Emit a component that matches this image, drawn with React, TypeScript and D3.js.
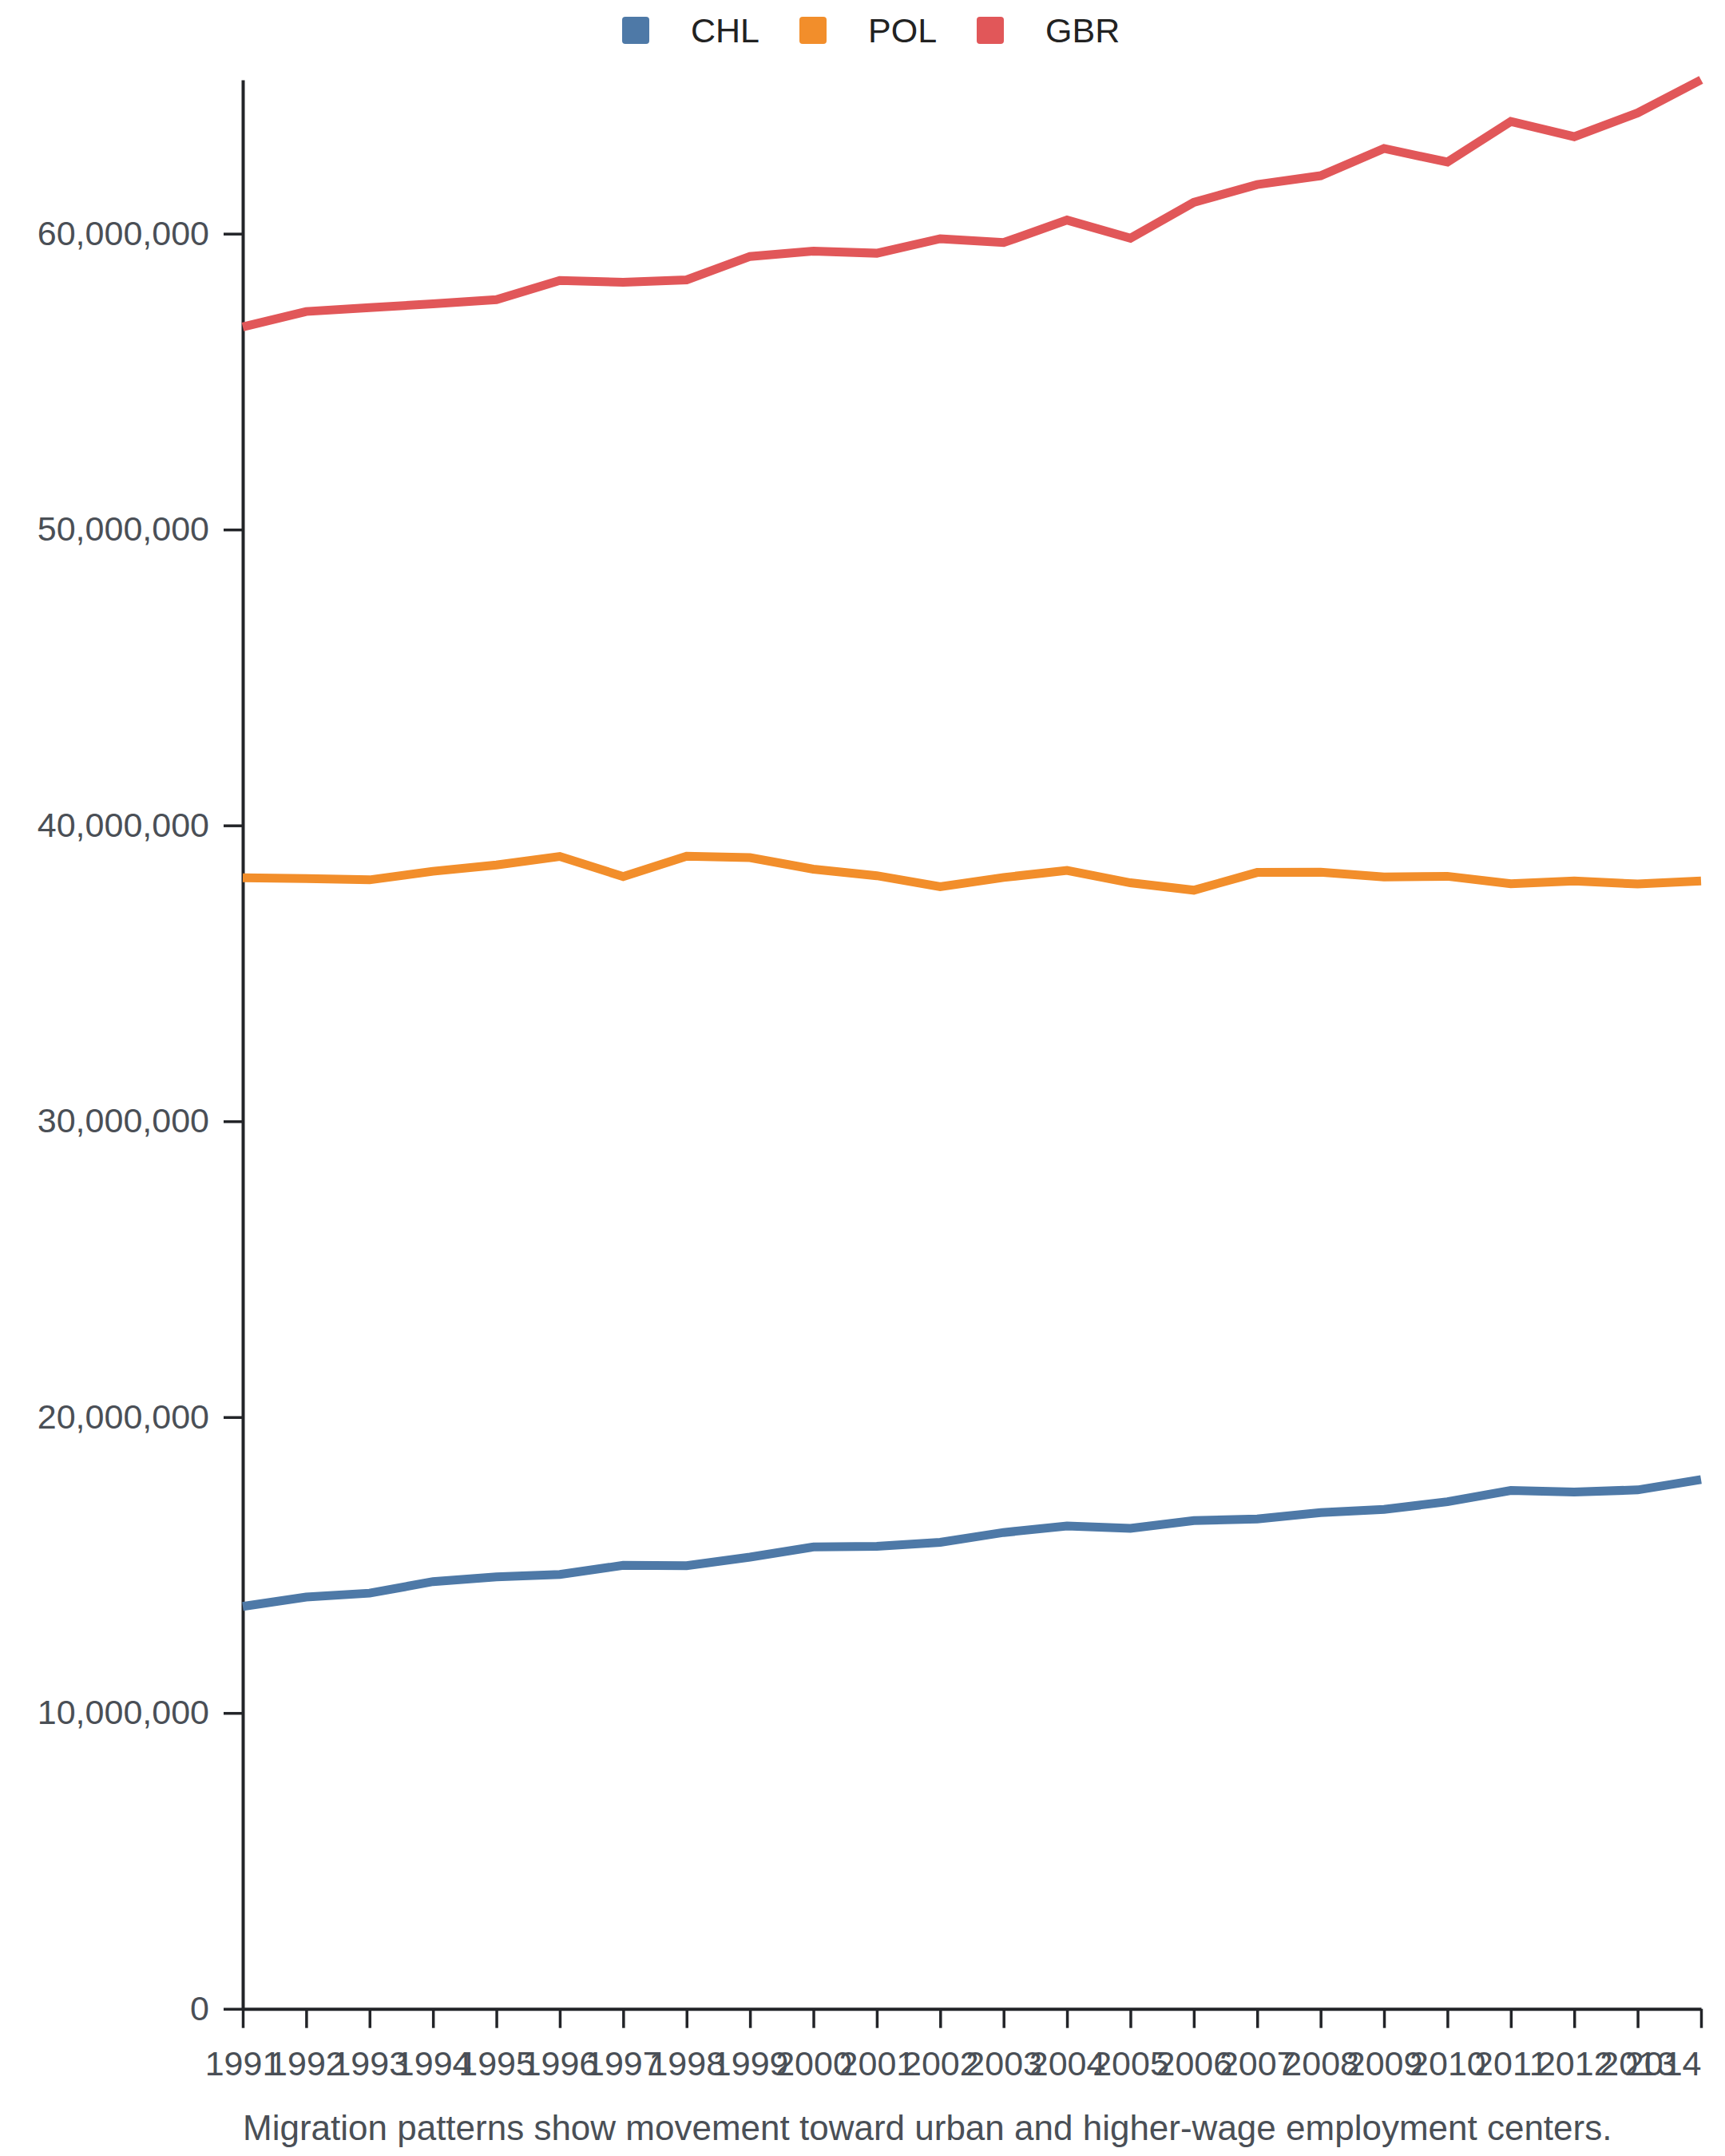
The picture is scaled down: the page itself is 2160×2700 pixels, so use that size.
import { useEffect, useRef } from 'react'
import * as d3 from 'd3'

const years = [
  1991, 1992, 1993, 1994, 1995, 1996, 1997, 1998, 1999, 2000, 2001, 2002,
  2003, 2004, 2005, 2006, 2007, 2008, 2009, 2010, 2011, 2012, 2013, 2014,
]

const chl = [
  13.6, 13.92, 14.05, 14.44, 14.6, 14.68, 14.99, 14.98, 15.27, 15.61, 15.63, 15.77,
  16.1, 16.32, 16.24, 16.5, 16.56, 16.77, 16.88, 17.14, 17.52, 17.47, 17.54, 17.89,
].map(v => v * 1e6)

const pol = [
  38.23, 38.2, 38.16, 38.45, 38.66, 38.95, 38.27, 38.96, 38.91, 38.52, 38.3, 37.93,
  38.24, 38.48, 38.06, 37.81, 38.41, 38.42, 38.26, 38.28, 38.03, 38.12, 38.02, 38.12,
].map(v => v * 1e6)

const gbr = [
  56.85, 57.37, 57.5, 57.63, 57.77, 58.42, 58.36, 58.44, 59.23, 59.41, 59.34, 59.83,
  59.7, 60.46, 59.85, 61.06, 61.66, 61.96, 62.88, 62.42, 63.79, 63.28, 64.08, 65.2,
].map(v => v * 1e6)

const seriesNames = ['CHL', 'POL', 'GBR']
const seriesValues = [chl, pol, gbr]
const colors = ['#4e79a7', '#f28e2b', '#e15759']
const yTicks = [0, 10e6, 20e6, 30e6, 40e6, 50e6, 60e6]
const caption = 'Migration patterns show movement toward urban and higher-wage employment centers.'

const W = 2160
const H = 2700
const MARGIN = { top: 100, right: 30, bottom: 184.3, left: 304 }
const FONT = '"Liberation Sans", Arial, Helvetica, sans-serif'
const LABEL = '#4a4f56'
const AXIS = '#222428'

export default function App() {
  const xRef = useRef<SVGGElement>(null)
  const yRef = useRef<SVGGElement>(null)

  const x = d3.scalePoint<number>()
    .domain(years)
    .range([MARGIN.left, W - MARGIN.right])

  const y = d3.scaleLinear()
    .domain([0, d3.max(seriesValues.flat())!])
    .range([H - MARGIN.bottom, MARGIN.top])

  const line = d3.line<number>()
    .x((_d, i) => x(years[i])!)
    .y(d => y(d))

  useEffect(() => {
    if (!xRef.current || !yRef.current) return

    const gx = d3.select(xRef.current)
    gx.selectAll('*').remove()
    gx.call(d3.axisBottom(x).tickSize(24).tickSizeOuter(0).tickPadding(29).tickFormat(d3.format('d')))

    const gy = d3.select(yRef.current)
    gy.selectAll('*').remove()
    gy.call(d3.axisLeft(y).tickValues(yTicks).tickSize(24).tickSizeOuter(0).tickPadding(18).tickFormat(d3.format(',')))

    for (const g of [gx, gy]) {
      g.select('.domain').attr('stroke', AXIS).attr('stroke-width', 4)
      g.selectAll('.tick line').attr('stroke', AXIS).attr('stroke-width', 3.5)
      g.selectAll('.tick text')
        .attr('fill', LABEL)
        .attr('font-size', 43)
        .attr('font-family', FONT)
    }

    // last year label sits flush with the end of the axis
    gx.selectAll<SVGTextElement, number>('.tick text')
      .filter(d => d === years[years.length - 1])
      .attr('text-anchor', 'end')
  }, [])

  const legendX = d3.scaleLinear().domain([0, 1]).range([779, 1001])

  return (
    <svg
      width={W}
      height={H}
      viewBox={`0 0 ${W} ${H}`}
      style={{ position: 'absolute', left: 0, top: 0, background: '#fff' }}
    >
      <g>
        {seriesNames.map((name, i) => (
          <g key={name} transform={`translate(${legendX(i)},0)`}>
            <rect x={0} y={21} width={34} height={34} rx={4} fill={colors[i]} />
            <text x={86} y={53.3} fontSize={43} fontFamily={FONT} fill="#222">{name}</text>
          </g>
        ))}
      </g>

      <g ref={yRef} transform={`translate(${MARGIN.left},0)`} />
      <g ref={xRef} transform={`translate(0,${H - MARGIN.bottom})`} />

      {seriesValues.map((vals, i) => (
        <path
          key={seriesNames[i]}
          d={line(vals) ?? ''}
          fill="none"
          stroke={colors[i]}
          strokeWidth={11}
          strokeLinejoin="miter"
        />
      ))}

      <text x={MARGIN.left} y={2680} fontSize={44} fontFamily={FONT} fill={LABEL}>
        {caption}
      </text>
    </svg>
  )
}
